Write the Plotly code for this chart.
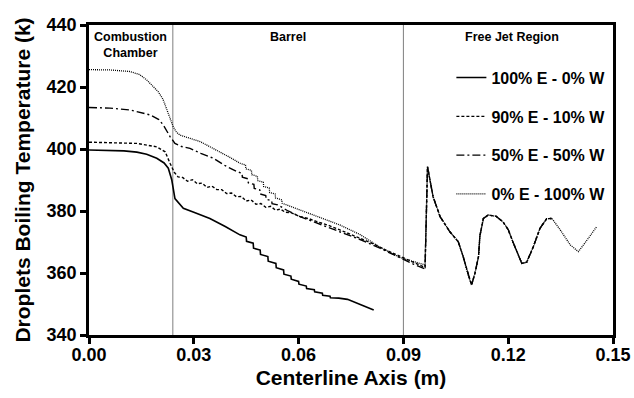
import plotly.graph_objects as go

# ---------------- data ----------------
series_names = ["100% E - 0% W", "90% E - 10% W", "50% E - 50% W", "0% E - 100% W"]

e100_x = [0.000, 0.005, 0.010, 0.0137, 0.0165, 0.0194, 0.0215, 0.0227, 0.0237, 0.0246, 0.0270, 0.0300,
          0.0346, 0.0390, 0.0432, 0.0450, 0.0451, 0.0470, 0.0471, 0.0490, 0.0491, 0.0512, 0.0513, 0.0535,
          0.0536, 0.0557, 0.0558, 0.0578, 0.0579, 0.0600, 0.0601, 0.0622, 0.0623, 0.0645, 0.0646, 0.0668,
          0.0669, 0.0690, 0.0691, 0.0715, 0.0740, 0.0780, 0.0815]
e100_y = [399.7, 399.6, 399.4, 399.0, 398.3, 397.0, 395.5, 393.8, 390.0, 384.0, 380.9, 379.6,
          377.6, 375.0, 372.3, 371.6, 370.2, 369.6, 368.0, 367.4, 366.0, 365.3, 363.8, 363.1,
          361.7, 361.0, 359.6, 359.0, 358.0, 357.3, 356.4, 355.8, 355.0, 354.6, 353.9, 353.5,
          352.8, 352.5, 352.0, 351.9, 351.5, 349.7, 348.1]

e90_x = [0.000, 0.006, 0.0137, 0.0194, 0.0218, 0.0232, 0.0244, 0.0255, 0.0268, 0.0282, 0.0296, 0.0310,
         0.0324, 0.0338, 0.0352, 0.0366, 0.0380, 0.0394, 0.0408, 0.0422, 0.0436, 0.0450, 0.0464, 0.0478,
         0.0492, 0.0506, 0.0520, 0.0534, 0.0548, 0.0562, 0.0580, 0.0604, 0.0630, 0.0652, 0.0685, 0.0718,
         0.0750, 0.0776, 0.0810, 0.0850, 0.0890, 0.0930, 0.0962]
e90_y = [402.2, 402.1, 401.8, 400.7, 399.1, 395.4, 392.5, 391.0, 390.8, 389.6, 390.1, 388.8,
         389.0, 387.6, 388.0, 386.9, 386.9, 385.6, 385.8, 384.6, 384.7, 383.2, 383.6, 382.2,
         382.4, 381.2, 381.5, 380.3, 380.6, 379.6, 379.4, 378.2, 377.5, 376.6, 375.4, 373.9,
         372.4, 371.2, 369.6, 367.4, 365.3, 363.4, 361.8]

e50_x = [0.000, 0.006, 0.0117, 0.0175, 0.0200, 0.0213, 0.0232, 0.0246, 0.0265, 0.0289, 0.0320, 0.0356,
         0.0390, 0.0423, 0.0438, 0.0439, 0.0455, 0.0456, 0.0472, 0.0473, 0.0489, 0.0490, 0.0506, 0.0507,
         0.0523, 0.0524, 0.0540, 0.0570, 0.0604, 0.0660, 0.0718, 0.0776, 0.0833, 0.0890, 0.0930, 0.0962]
e50_y = [413.4, 413.2, 412.6, 411.0, 409.5, 407.7, 404.0, 401.8, 400.8, 400.2, 398.6, 397.0,
         394.6, 392.7, 392.2, 390.9, 390.4, 389.1, 388.6, 387.3, 386.8, 385.5, 385.0, 383.8,
         383.3, 382.4, 382.0, 380.0, 378.2, 375.8, 373.3, 370.8, 368.0, 364.8, 362.8, 361.3]

e0_x = [0.000, 0.006, 0.0117, 0.0145, 0.0165, 0.0182, 0.0198, 0.0212, 0.0222, 0.0232, 0.0241, 0.0250,
        0.0260, 0.0290, 0.0318, 0.0345, 0.0375, 0.0405, 0.0432, 0.0448, 0.0449, 0.0465, 0.0466, 0.0482,
        0.0483, 0.0499, 0.0500, 0.0516, 0.0517, 0.0533, 0.0534, 0.0552, 0.0553, 0.0570, 0.0604, 0.0660,
        0.0718, 0.0776, 0.0833, 0.0890, 0.0930, 0.0962]
e0_y = [425.6, 425.5, 425.0, 424.0, 422.3, 420.5, 418.5, 416.0, 413.0, 410.0, 407.2, 405.5,
        404.5, 403.4, 402.4, 400.8, 399.1, 397.2, 395.4, 394.9, 393.6, 393.1, 391.7, 391.2,
        389.8, 389.3, 387.9, 387.4, 386.0, 385.5, 384.2, 383.6, 382.5, 381.8, 380.4, 378.0,
        375.5, 372.4, 368.3, 365.0, 363.8, 362.6]

# free-jet region (shared by the 90/50/0 % E curves, which overlap there)
jet_x = [0.0969, 0.0985, 0.1005, 0.1033, 0.1057, 0.1071, 0.1085, 0.1095, 0.1105, 0.1115, 0.1119, 0.1129,
         0.1143, 0.1165, 0.1185, 0.1200, 0.1215, 0.1239, 0.1253, 0.1272, 0.1291, 0.1310, 0.1325]
jet_y = [394.3, 384.6, 378.2, 373.3, 370.1, 365.3, 359.4, 356.1, 360.0, 365.3, 372.0, 377.6,
         378.7, 378.3, 376.5, 374.0, 369.6, 363.1, 363.5, 368.5, 374.4, 377.5, 377.6]
jet_tail_x = [0.1349, 0.1378, 0.1401, 0.1425, 0.1453]
jet_tail_y = [373.9, 369.0, 366.9, 370.5, 374.9]

region_bounds = [0.024, 0.09]
region_labels = ["Combustion<br>Chamber", "Barrel", "Free Jet Region"]
region_label_x = [0.012, 0.057, 0.121]

x_ticks = [0.00, 0.03, 0.06, 0.09, 0.12, 0.15]
y_ticks = [340, 360, 380, 400, 420, 440]

# ---------------- figure ----------------
FONT = "Arial, 'Liberation Sans', sans-serif"

traces = [
    (series_names[0], e100_x, e100_y, "solid", 1.6),
    (series_names[1], e90_x + jet_x, e90_y + jet_y, "3px,2px", 1.4),
    (series_names[2], e50_x + jet_x, e50_y + jet_y, "8px,3px,2px,3px", 1.4),
    (series_names[3], e0_x + jet_x + jet_tail_x, e0_y + jet_y + jet_tail_y, "1px,1px", 1.3),
]

fig = go.Figure()
for i, (name, xs, ys, dash, w) in enumerate(traces):
    fig.add_trace(go.Scatter(x=xs, y=ys, mode="lines", name=name, legendgroup=str(i),
                             line=dict(color="black", width=w, dash=dash)))

for xb in region_bounds:
    fig.add_vline(x=xb, line=dict(color="#7f7f7f", width=1), layer="below")

for lab, lx in zip(region_labels, region_label_x):
    fig.add_annotation(x=lx, xref="x", y=1.0, yref="paper", yanchor="top", yshift=-3,
                       text=lab, showarrow=False,
                       font=dict(family=FONT, size=12.5, color="black", weight="bold"))

axis_common = dict(showgrid=False, zeroline=False, showline=True, linewidth=2.5, linecolor="black",
                   mirror=True, ticks="outside", ticklen=6, tickwidth=2.5, tickcolor="black",
                   automargin=False,
                   tickfont=dict(family=FONT, size=18, color="black", weight="bold"))

fig.update_xaxes(range=[0, 0.15], tickvals=x_ticks, ticktext=[f"{v:.2f}" for v in x_ticks],
                 ticklabelstandoff=-4,
                 title=dict(text="Centerline Axis (m)", standoff=6,
                            font=dict(family=FONT, size=21, color="black", weight="bold")),
                 **axis_common)
fig.update_yaxes(range=[340, 440], tickvals=y_ticks,
                 title=dict(text="Droplets Boiling Temperature (k)", standoff=11,
                            font=dict(family=FONT, size=21, color="black", weight="bold")),
                 **axis_common)

fig.update_layout(
    width=634, height=398,
    margin=dict(l=89, r=21, t=25, b=63),
    paper_bgcolor="white", plot_bgcolor="white",
    showlegend=True,
    legend=dict(x=0.995, xanchor="right", y=0.885, yanchor="top", bgcolor="rgba(0,0,0,0)",
                tracegroupgap=15, traceorder="grouped",
                font=dict(family=FONT, size=16, color="black", weight="bold")),
)

fig.write_html("out.html", config={"displayModeBar": False},
               post_script="document.body.style.margin='0';")
